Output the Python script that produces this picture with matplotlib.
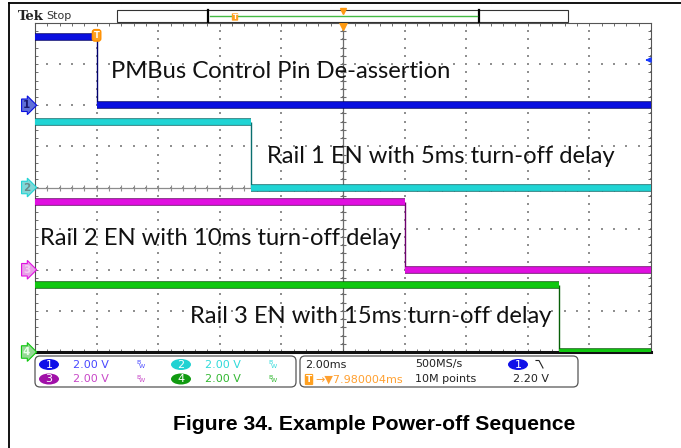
import numpy as np
import matplotlib.pyplot as plt
import matplotlib.patheffects as pe
import matplotlib.transforms as mtransforms
from matplotlib.patches import FancyBboxPatch, Rectangle, Ellipse

# scope settings
time_per_div = 2.0      # ms/div
volts_per_div = 2.0     # V/div
t_start, t_end = -2.0, 18.0   # ms, trigger at t=0
sample_rate = '500MS/s'
record_len = '10M points'
trig_delay = '7.980004ms'
trigger_level = 2.20    # V on ch1

# channel data
channels = ['1', '2', '3', '4']
fall_times = [0.0, 5.0, 10.0, 15.0]      # ms
high_levels = [3.3, 3.2, 3.3, 3.25]      # V
low_levels = [0.0, 0.0, 0.0, 0.0]        # V
offsets = [2.0, 0.0, -2.0, -4.0]         # div
labels = ['PMBus Control Pin De-assertion',
          'Rail 1 EN with 5ms turn-off delay',
          'Rail 2 EN with 10ms turn-off delay',
          'Rail 3 EN with 15ms turn-off delay']

fill_colors = ['#0a10e0', '#20d4d4', '#e010e0', '#10c810']
edge_colors = ['#00006e', '#0a6f6f', '#6e006e', '#075f07']
marker_fc = ['#6070d8', '#80d8d8', '#e8a0e8', '#94d894']
marker_tc = ['#1a1a70', '#6a8a8a', '#f4d0f4', '#e8ffe8']
badge_fc = ['#1010e8', '#22d2d2', '#a010a8', '#109a10']
value_colors = ['#4848ff', '#30dada', '#c848c8', '#34b834']

W, H = 681, 448
fig = plt.figure(figsize=(W / 100, H / 100), dpi=100)

# scope graticule
ax = fig.add_axes([35 / W, 1 - 352 / H, 616 / W, 329 / H])
ax.set_xlim(t_start, t_end)
ax.set_ylim(-4, 4)

xs_major = np.arange(t_start, t_end + 0.01, time_per_div)
xs_minor = np.arange(t_start, t_end + 0.01, time_per_div / 5)
ys_major = np.arange(-4, 4.01, 1.0)
ys_minor = np.arange(-4, 4.01, 0.2)

gx, gy = np.meshgrid(xs_major, ys_minor)
ax.scatter(gx.ravel(), gy.ravel(), s=1.1, c='#909090', marker='s', lw=0, zorder=1)
gx, gy = np.meshgrid(xs_minor, ys_major)
ax.scatter(gx.ravel(), gy.ravel(), s=1.1, c='#909090', marker='s', lw=0, zorder=1)

t_mid = (t_start + t_end) / 2
ax.axhline(0, color='#8c8c8c', lw=0.9, zorder=1)
ax.axvline(t_mid, color='#6c6c6c', lw=0.9, zorder=1)
ax.scatter(xs_minor, np.zeros_like(xs_minor), marker='|', s=14, c='#8c8c8c', lw=0.8, zorder=1)
ax.scatter(np.full_like(ys_minor, t_mid), ys_minor, marker='_', s=14, c='#6c6c6c', lw=0.8, zorder=1)

ax.set_xticks(xs_minor)
ax.set_yticks(ys_minor)
ax.tick_params(direction='in', length=2.5, width=0.6, color='#555555',
               top=True, right=True, labelbottom=False, labelleft=False)
for side in ['top', 'left', 'right']:
    ax.spines[side].set_color('#555555')
    ax.spines[side].set_linewidth(0.8)
ax.spines['bottom'].set_color('#111111')
ax.spines['bottom'].set_linewidth(2.2)

# traces
for i in range(4):
    y_hi = offsets[i] + high_levels[i] / volts_per_div
    y_lo = offsets[i] + low_levels[i] / volts_per_div
    effects = [pe.Stroke(linewidth=5.4, foreground=edge_colors[i]), pe.Normal()]
    ax.vlines(fall_times[i], y_lo, y_hi, color=edge_colors[i], lw=1, zorder=2)
    ax.hlines(y_hi, t_start, fall_times[i], color=fill_colors[i], lw=4.2,
              path_effects=effects, zorder=3)
    ax.hlines(y_lo, fall_times[i], t_end, color=fill_colors[i], lw=4.2,
              path_effects=effects, zorder=3)

# trigger marks
y_trig = offsets[0] + trigger_level / volts_per_div
ax.annotate('', xy=(t_end - 0.28, y_trig), xytext=(t_end, y_trig),
            arrowprops=dict(arrowstyle='-|>', color='#1a3cff', lw=1.2, mutation_scale=7),
            annotation_clip=False, zorder=5)
ax.text(fall_times[0], offsets[0] + high_levels[0] / volts_per_div + 0.05, 'T',
        ha='center', va='center', fontsize=6, color='white', fontweight='bold', zorder=6,
        bbox=dict(boxstyle='round,pad=0.15,rounding_size=0.3', fc='#ffa020', ec='#ff9000'))
ax.plot(t_mid, 3.93, marker='v', ms=6, color='#ff9a10', clip_on=False, zorder=6)

# channel ground markers
blend = mtransforms.blended_transform_factory(ax.transAxes, ax.transData)
for i in range(4):
    ax.text(-0.008, offsets[i], channels[i], transform=blend, ha='right', va='center',
            fontsize=7.5, color=marker_tc[i], fontweight='bold', clip_on=False, zorder=6,
            bbox=dict(boxstyle='rarrow,pad=0.12', fc=marker_fc[i], ec=fill_colors[i], lw=0.8))

# overlay in pixel coordinates
ov = fig.add_axes([0, 0, 1, 1])
ov.set_xlim(0, W)
ov.set_ylim(H, 0)
ov.axis('off')

ov.plot([9, 9], [3, H], color='black', lw=1.3)
ov.plot([9, W], [3, 3], color='black', lw=1.3)

# annotation texts
label_pos = [(111, 78), (267, 163), (40, 245), (190, 323)]
for txt, (x, y) in zip(labels, label_pos):
    ov.text(x, y, txt, ha='left', va='baseline', fontsize=17.1, family='Lato', color='#111111')

# header
ov.text(18, 16, 'Tek', ha='left', va='center', fontsize=9.5, fontweight='bold',
        family='DejaVu Serif', color='#222222')
ov.text(46, 16, 'Stop', ha='left', va='center', fontsize=8, color='#333333')
ov.add_patch(Rectangle((117, 10), 451, 12, fc='white', ec='#333333', lw=0.8))
ov.plot([208, 208], [10, 22], color='black', lw=1.6)
ov.plot([479, 479], [10, 22], color='black', lw=1.6)
ov.plot([210, 477], [16, 16], color='#44bb44', lw=1)
ov.text(235, 17, 'T', ha='center', va='center', fontsize=5, color='white', fontweight='bold',
        bbox=dict(boxstyle='round,pad=0.1', fc='#ffa020', ec='none'))
ov.plot(343, 11, marker='v', ms=5, color='#ff9a10')

# info boxes
ov.add_patch(FancyBboxPatch((35, 356), 261, 31, boxstyle='round,pad=0,rounding_size=5',
                            fc='white', ec='#555555', lw=0.9))
ov.add_patch(FancyBboxPatch((300, 356), 278, 31, boxstyle='round,pad=0,rounding_size=5',
                            fc='white', ec='#555555', lw=0.9))
badge_pos = [(49, 364.5), (181, 364.5), (49, 379), (181, 379)]
vdiv_txt = f'{volts_per_div:.2f} V'
for i, (bx, by) in enumerate(badge_pos):
    ov.add_patch(Ellipse((bx, by), 20, 11, fc=badge_fc[i], ec='none'))
    ov.text(bx, by + 0.5, channels[i], ha='center', va='center', fontsize=8, color='white')
    ov.text(bx + 24, by + 0.5, vdiv_txt, ha='left', va='center', fontsize=8, color=value_colors[i])
    ov.text(bx + 87, by - 1.5, 'B', ha='left', va='center', fontsize=4.5, color=value_colors[i])
    ov.text(bx + 89.5, by + 2, 'W', ha='left', va='center', fontsize=4.5, color=value_colors[i])

ov.text(305, 364.5, f'{time_per_div:.2f}ms', ha='left', va='center', fontsize=8, color='#222222')
ov.text(309, 379.5, 'T', ha='center', va='center', fontsize=6.5, color='white', fontweight='bold',
        bbox=dict(boxstyle='round,pad=0.12', fc='#ffa020', ec='none'))
ov.text(315, 379.5, '\u2192\u25bc' + trig_delay, ha='left', va='center', fontsize=8, color='#ffa030')
ov.text(415, 364.5, sample_rate, ha='left', va='center', fontsize=8, color='#222222')
ov.text(415, 379.5, record_len, ha='left', va='center', fontsize=8, color='#222222')
ov.add_patch(Ellipse((518, 364.5), 20, 11, fc=badge_fc[0], ec='none'))
ov.text(518, 365, channels[0], ha='center', va='center', fontsize=8, color='white')
ov.plot([536, 539, 543], [360.5, 360.5, 368], color='#222222', lw=0.8)
ov.text(513, 379.5, f'{trigger_level:.2f} V', ha='left', va='center', fontsize=8, color='#222222')

# caption
ov.text(374, 424, 'Figure 34. Example Power-off Sequence', ha='center', va='center',
        fontsize=15.2, fontweight='bold', family='Liberation Sans', color='black')

fig.savefig('out.png', dpi=100)
